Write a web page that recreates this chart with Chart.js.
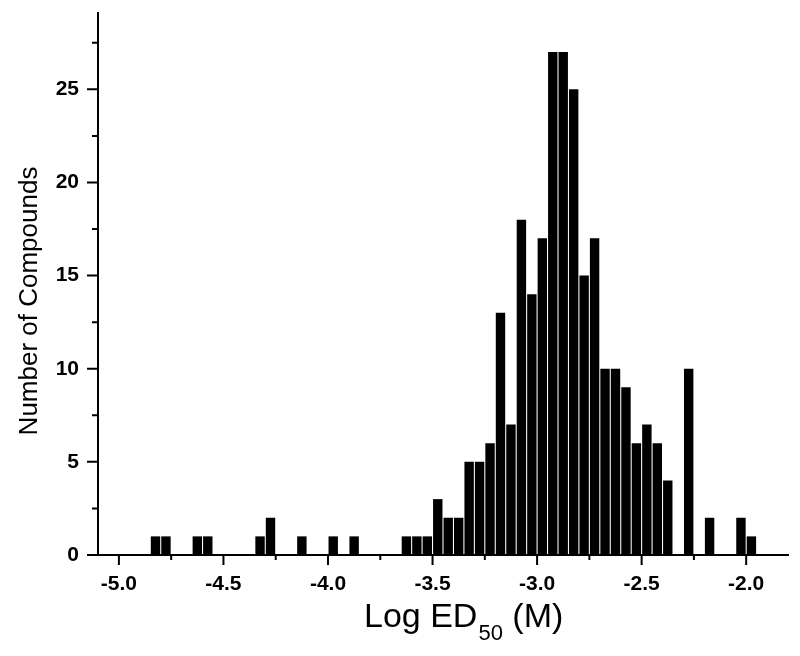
<!DOCTYPE html>
<html>
<head>
<meta charset="utf-8">
<title>Log ED50 histogram</title>
<script src="https://cdn.jsdelivr.net/npm/chart.js@4.4.1/dist/chart.umd.min.js"></script>
<style>
    html, body { margin: 0; padding: 0; background: #ffffff; }
    #wrap { width: 800px; height: 656px; position: relative; }
</style>
</head>
<body>
<div id="wrap"><canvas id="histogram"></canvas></div>
<script>
// histogram of Log ED50, bins are 0.05 wide, first bin starts at -4.85
const binStart = -4.85;
const binWidth = 0.05;
const compoundCounts = [
    1, 1, 0, 0, 1, 1, 0, 0, 0, 0,        // -4.85 .. -4.40
    1, 2, 0, 0, 1, 0, 0, 1, 0, 1,        // -4.35 .. -3.90
    0, 0, 0, 0, 1, 1, 1, 3, 2, 2,        // -3.85 .. -3.40
    5, 5, 6, 13, 7, 18, 14, 17, 27, 27,  // -3.35 .. -2.90
    25, 15, 17, 10, 10, 9, 6, 7, 6, 4,   // -2.85 .. -2.40
    0, 10, 0, 2, 0, 0, 2, 1              // -2.35 .. -2.00
];

const xMajorTicks = [-5.0, -4.5, -4.0, -3.5, -3.0, -2.5, -2.0];
const xTickLabels = ['-5.0', '-4.5', '-4.0', '-3.5', '-3.0', '-2.5', '-2.0'];
const xMinorTicks = [-4.75, -4.25, -3.75, -3.25, -2.75, -2.25];
const yMajorTicks = [0, 5, 10, 15, 20, 25];
const yTickLabels = ['0', '5', '10', '15', '20', '25'];
const yMinorTicks = [2.5, 7.5, 12.5, 17.5, 22.5, 27.5];

const FONT = '"Liberation Sans", Arial, Helvetica, sans-serif';

// bar x positions = bin centres
const binCenters = compoundCounts.map((c, i) => +(binStart + (i + 0.5) * binWidth).toFixed(3));

function isIn(list, v) {
    return list.some(t => Math.abs(t - v) < 1e-6);
}

// Chart.js draws all ticks the same length, so majors/minors + titles are done here
const axisDecor = {
    id: 'axisDecor',
    afterDraw(chart) {
        const ctx = chart.ctx;
        const area = chart.chartArea;
        const xs = chart.scales.x;
        const ys = chart.scales.y;

        ctx.save();
        ctx.strokeStyle = '#000';
        ctx.lineWidth = 2;
        ctx.beginPath();
        xs.ticks.forEach(t => {
            const px = xs.getPixelForValue(t.value);
            const len = isIn(xMajorTicks, t.value) ? 10 : 5;
            ctx.moveTo(px, area.bottom);
            ctx.lineTo(px, area.bottom + len);
        });
        ys.ticks.forEach(t => {
            const py = ys.getPixelForValue(t.value);
            const len = isIn(yMajorTicks, t.value) ? 11 : 6;
            ctx.moveTo(area.left - len, py);
            ctx.lineTo(area.left, py);
        });
        ctx.stroke();

        // x title with subscript
        ctx.fillStyle = '#000';
        ctx.textBaseline = 'alphabetic';
        ctx.textAlign = 'left';
        let tx = 364;
        ctx.font = '34px ' + FONT;
        ctx.fillText('Log ED', tx, 627);
        tx += ctx.measureText('Log ED').width + 1;
        ctx.font = '22px ' + FONT;
        ctx.fillText('50', tx, 640);
        tx += ctx.measureText('50').width;
        ctx.font = '34px ' + FONT;
        ctx.fillText(' (M)', tx, 627);

        // y title
        ctx.save();
        ctx.translate(37, 301);
        ctx.rotate(-Math.PI / 2);
        ctx.textAlign = 'center';
        ctx.font = '26px ' + FONT;
        ctx.fillText('Number of Compounds', 0, 0);
        ctx.restore();

        ctx.restore();
    }
};

const tickFont = { family: FONT, size: 21, weight: 'bold' };

new Chart(document.getElementById('histogram'), {
    type: 'bar',
    data: {
        datasets: [{
            label: 'Number of Compounds',
            data: compoundCounts.map((c, i) => ({ x: binCenters[i], y: c })),
            backgroundColor: '#000000',
            borderWidth: 0,
            barPercentage: 0.9,
            categoryPercentage: 1.0
        }]
    },
    options: {
        responsive: true,
        maintainAspectRatio: false,
        animation: false,
        layout: { padding: { left: 0, top: 13, right: 12, bottom: 0 } },
        plugins: {
            legend: { display: false },
            tooltip: { enabled: false }
        },
        scales: {
            x: {
                type: 'linear',
                min: -5.1,
                max: -1.8,
                offset: false,
                grid: { display: false, drawTicks: false, offset: false },
                border: { display: true, color: '#000', width: 2 },
                afterBuildTicks: s => {
                    s.ticks = xMajorTicks.concat(xMinorTicks).sort((a, b) => a - b).map(v => ({ value: v }));
                },
                afterFit: s => {
                    s.height = 101;
                    s.paddingLeft = 0;
                    s.paddingRight = 0;
                },
                ticks: {
                    autoSkip: false,
                    maxRotation: 0,
                    padding: 17,
                    color: '#000',
                    font: tickFont,
                    callback: v => {
                        const i = xMajorTicks.findIndex(t => Math.abs(t - v) < 1e-6);
                        return i >= 0 ? xTickLabels[i] : '';
                    }
                }
            },
            y: {
                min: 0,
                max: 29.1,
                grid: { display: false, drawTicks: false },
                border: { display: true, color: '#000', width: 2 },
                afterBuildTicks: s => {
                    s.ticks = yMajorTicks.concat(yMinorTicks).sort((a, b) => a - b).map(v => ({ value: v }));
                },
                afterFit: s => {
                    s.width = 98;
                    // no extra room for half label heights, the axis goes right up to the top
                    s.paddingTop = 0;
                    s.paddingBottom = 0;
                },
                ticks: {
                    autoSkip: false,
                    padding: 19,
                    color: '#000',
                    font: tickFont,
                    callback: v => {
                        const i = yMajorTicks.findIndex(t => Math.abs(t - v) < 1e-6);
                        return i >= 0 ? yTickLabels[i] : '';
                    }
                }
            }
        }
    },
    plugins: [axisDecor]
});
</script>
</body>
</html>
